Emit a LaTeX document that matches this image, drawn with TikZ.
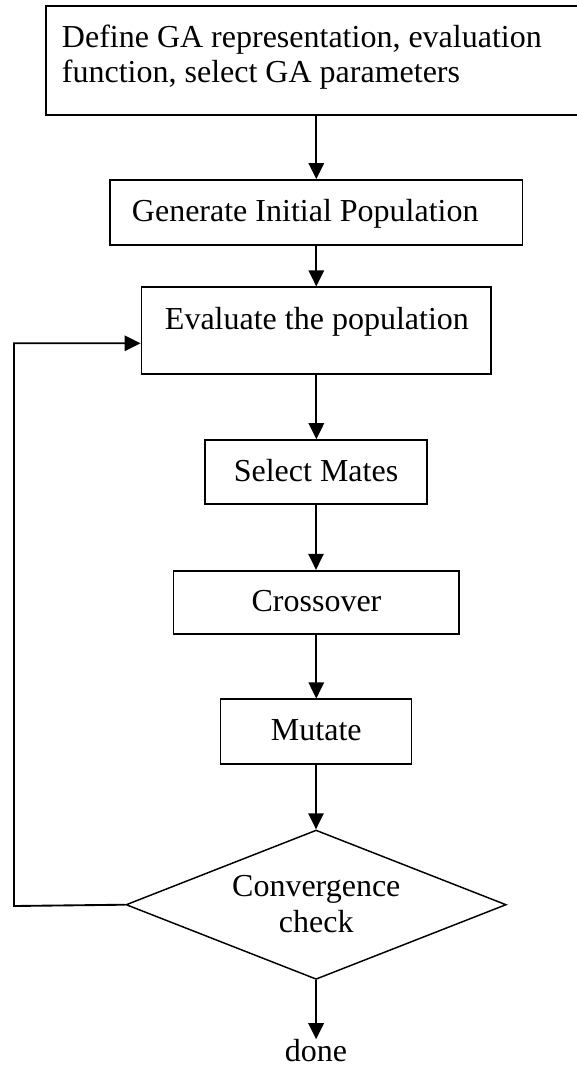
\documentclass[tikz,border=0pt]{standalone}
\usepackage{fontspec}
\setmainfont{Liberation Serif}
\usetikzlibrary{arrows.meta,shapes.geometric,calc}
\newdimen\pxu \pxu=0.75pt
\begin{document}
\begin{tikzpicture}[x=0.75pt,y=-0.75pt,
  box/.style={draw, line width=1.3pt, rectangle, inner sep=0pt},
  decision/.style={draw, line width=1.1pt, diamond, inner sep=0pt},
  lbl/.style={inner sep=0pt, font=\fontsize{24}{27}\selectfont},
  flow/.style={line width=1.4pt, -{Triangle[length=12pt,width=11.5pt]}}]
\useasboundingbox (0,0) rectangle (576,1065);

% process boxes
\node[box, minimum width=544\pxu, minimum height=109\pxu] (define) at (318,60.5) {};
\node[box, minimum width=412.2\pxu, minimum height=65\pxu] (init) at (316.3,212.5) {};
\node[box, minimum width=349.7\pxu, minimum height=87\pxu] (eval) at (316.35,330.8) {};
\node[box, minimum width=222.7\pxu, minimum height=64.3\pxu] (select) at (316,472.2) {};
\node[box, minimum width=285.8\pxu, minimum height=63.6\pxu] (cross) at (316.3,602.5) {};
\node[box, minimum width=191.1\pxu, minimum height=64.7\pxu] (mutate) at (316,731.7) {};
\node[decision, minimum width=380.2\pxu, minimum height=149.3\pxu] (conv) at (316.1,904.7) {};

% labels
\node[lbl, align=left, anchor=north west, font=\fontsize{24}{26.25}\selectfont] (definetext) at (61.7,24.8)
  {Define GA representation, evaluation\\function, select GA parameters};
\node[lbl, anchor=base west] (inittext) at (131.7,221.7) {Generate Initial Population};
\node[lbl, anchor=base] (evaltext) at (316.9,329.3) {Evaluate the population};
\node[lbl, anchor=base] (selecttext) at (316,481) {Select Mates};
\node[lbl, anchor=base] (crosstext) at (316.5,611) {Crossover};
\node[lbl, anchor=base] (mutatetext) at (316.3,740) {Mutate};
\node[lbl, align=center, anchor=north, font=\fontsize{24}{27.4}\selectfont] (convtext) at (316.3,875)
  {Convergence\\check};
\node[lbl, anchor=base] (done) at (316,1061.7) {done};

% connectors
\draw[flow] (init.north |- define.south) -- (init.north);
\draw[flow] (init.south) -- (init.south |- eval.north);
\draw[flow] (eval.south) -- (eval.south |- select.north);
\draw[flow] (select.south) -- (select.south |- cross.north);
\draw[flow] (cross.south) -- (cross.south |- mutate.north);
\draw[flow] (mutate.south) -- (mutate.south |- conv.north);
\draw[flow] (conv.south) -- (conv.south |- done.north);
\coordinate (loopleft) at (14,906);
\coordinate (evalin) at ($(eval.west)+(0,12.5)$);
\draw[flow] (conv.west) -- (loopleft) |- (evalin);
\end{tikzpicture}
\end{document}
